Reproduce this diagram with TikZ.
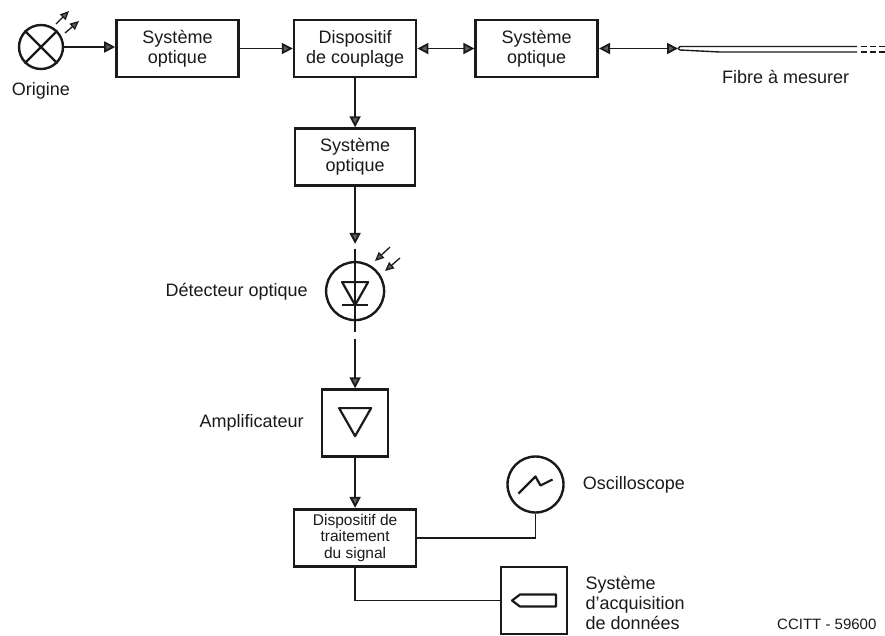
\documentclass[tikz,border=0pt]{standalone}
\usepackage{fontspec}
\setmainfont{Liberation Sans}
\definecolor{InkBlack}{HTML}{1A1A1A}
\definecolor{TipGrey}{HTML}{5E5E5E}
\usetikzlibrary{
  arrows.meta,
  positioning
}

\begin{document}
\begin{tikzpicture}[
  x=1pt, y=-1pt,
  box/.style={
    rectangle, draw=InkBlack, line width=2.6pt, fill=white,
    minimum width=122pt, minimum height=57pt,
    font=\fontsize{18}{20}\selectfont, text=InkBlack,
    align=center, inner sep=0pt
  },
  symbolbox/.style={
    box, minimum width=66pt, minimum height=67pt
  },
  ring/.style={
    circle, draw=InkBlack, line width=2.4pt, fill=white, inner sep=0pt
  },
  lbl/.style={
    font=\fontsize{18}{20}\selectfont, text=InkBlack,
    align=left, inner sep=0pt
  },
  arr/.style={
    -{Triangle[length=11pt, width=11pt, fill=TipGrey]},
    line width=1.8pt, InkBlack
  },
  biarr/.style={
    {Triangle[length=11pt, width=11pt, fill=TipGrey]}-{Triangle[length=11pt, width=11pt, fill=TipGrey]},
    line width=1.8pt, InkBlack
  },
  ray/.style={
    -{Triangle[length=9pt, width=8pt, fill=TipGrey]},
    line width=1.3pt, InkBlack
  },
  wire/.style={
    line width=1.8pt, InkBlack
  },
  glyph/.style={
    line width=2.2pt, InkBlack, line join=round
  }
]
  \useasboundingbox (0,0) rectangle (885,635);

  % Top row
  \node[ring, minimum size=44pt] (origin) at (41,47) {};
  \node[box] (sysa) at (177.5,48.5) {Système\\optique};
  \node[box, right=53pt of sysa] (couple) {Dispositif\\de couplage};
  \node[box, right=57pt of couple] (sysb) {Système\\optique};
  \coordinate (fibrestart) at (678,48.5);

  % Central column
  \node[box, below=49pt of couple, minimum width=120pt] (sysc) {Système\\optique};
  \node[ring, below=74pt of sysc, minimum size=58pt] (detect) {};
  \coordinate[above=17pt of detect] (detectin);
  \coordinate[above=12pt of detect] (detecttop);
  \coordinate[below=11pt of detect] (detectbot);
  \coordinate[below=18pt of detect] (detectout);
  \node[symbolbox, below=67pt of detect] (amp) {};
  \node[box, below=50pt of amp,
    font=\fontsize{15.5}{16.5}\selectfont] (proc)
    {Dispositif de\\traitement\\du signal};

  % Outputs
  \node[ring, minimum size=56pt] (scope) at (535.5,484.5) {};
  \node[symbolbox] (acq) at (534,600.5) {};

  % Labels
  \node[lbl, below=12pt of origin] (originlbl) {Origine};
  \node[lbl, anchor=west] (fibrelbl) at (722,77) {Fibre à mesurer};
  \node[lbl, left=17pt of detect, yshift=-1pt] (detectlbl) {Détecteur optique};
  \node[lbl, left=17pt of amp] (amplbl) {Amplificateur};
  \node[lbl, right=18pt of scope] (scopelbl) {Oscilloscope};
  \node[lbl, right=17pt of acq, yshift=-2.5pt] (acqlbl) {Système\\d'acquisition\\de données};
  \node[lbl, anchor=south west, font=\fontsize{15}{16}\selectfont] (ref) at (777,630) {CCITT - 59600};

  % Connectors
  \draw[arr] (origin) -- (sysa.west |- origin);
  \draw[arr] (sysa) -- (couple);
  \draw[biarr] (couple) -- (sysb);
  \draw[biarr] (sysb.east) -- (fibrestart);
  \draw[arr] (couple) -- (sysc);
  \draw[arr] (sysc) -- (detectin);
  \draw[arr] (detectout) -- (amp);
  \draw[arr] (amp) -- (proc);
  \draw[wire] (proc.east) -| (scope);
  \draw[wire] (proc.south) |- (acq);

  % Lamp cross and rays
  \draw[glyph] (origin.north west) -- (origin.south east);
  \draw[glyph] (origin.north east) -- (origin.south west);
  \draw[ray] (56,24) -- (69,11);
  \draw[ray] (65,33) -- (79,21);

  % Photodiode
  \draw[wire] (detecttop) -- (detectbot);
  \draw[glyph] ([shift={(-13,-9)}]detect.center) -- ([shift={(13,-9)}]detect.center)
    -- ([shift={(0,14)}]detect.center) -- cycle;
  \draw[glyph] ([shift={(-13,14)}]detect.center) -- ([shift={(13,14)}]detect.center);
  \draw[ray] (390,247) -- (375,261);
  \draw[ray] (400,258) -- (385,271);

  % Amplifier triangle
  \draw[glyph] ([shift={(-16,-15)}]amp.center) -- ([shift={(16,-15)}]amp.center)
    -- ([shift={(0,13)}]amp.center) -- cycle;

  % Scope trace
  \draw[glyph] ([shift={(-17,9)}]scope.center) -- ([shift={(0,-8)}]scope.center)
    -- ([shift={(5,1)}]scope.center) -- ([shift={(17,-5)}]scope.center);

  % Recorder symbol
  \draw[glyph] ([shift={(-22,0)}]acq.center) -- ([shift={(-14,-6)}]acq.center)
    -- ([shift={(22,-6)}]acq.center) -- ([shift={(22,6)}]acq.center)
    -- ([shift={(-14,6)}]acq.center) -- cycle;

  % Fibre
  \draw[line width=1.4pt, InkBlack] (fibrestart) -- (680,46.5) -- (857,46.5);
  \draw[line width=1.4pt, InkBlack] (fibrestart) -- (680,50) -- (720,52) -- (857,52);
  \draw[line width=1.4pt, InkBlack, dash pattern=on 6pt off 3pt] (861,46.5) -- (885,46.5);
  \draw[line width=1.4pt, InkBlack, dash pattern=on 6pt off 3pt] (861,52) -- (885,52);
\end{tikzpicture}
\end{document}
